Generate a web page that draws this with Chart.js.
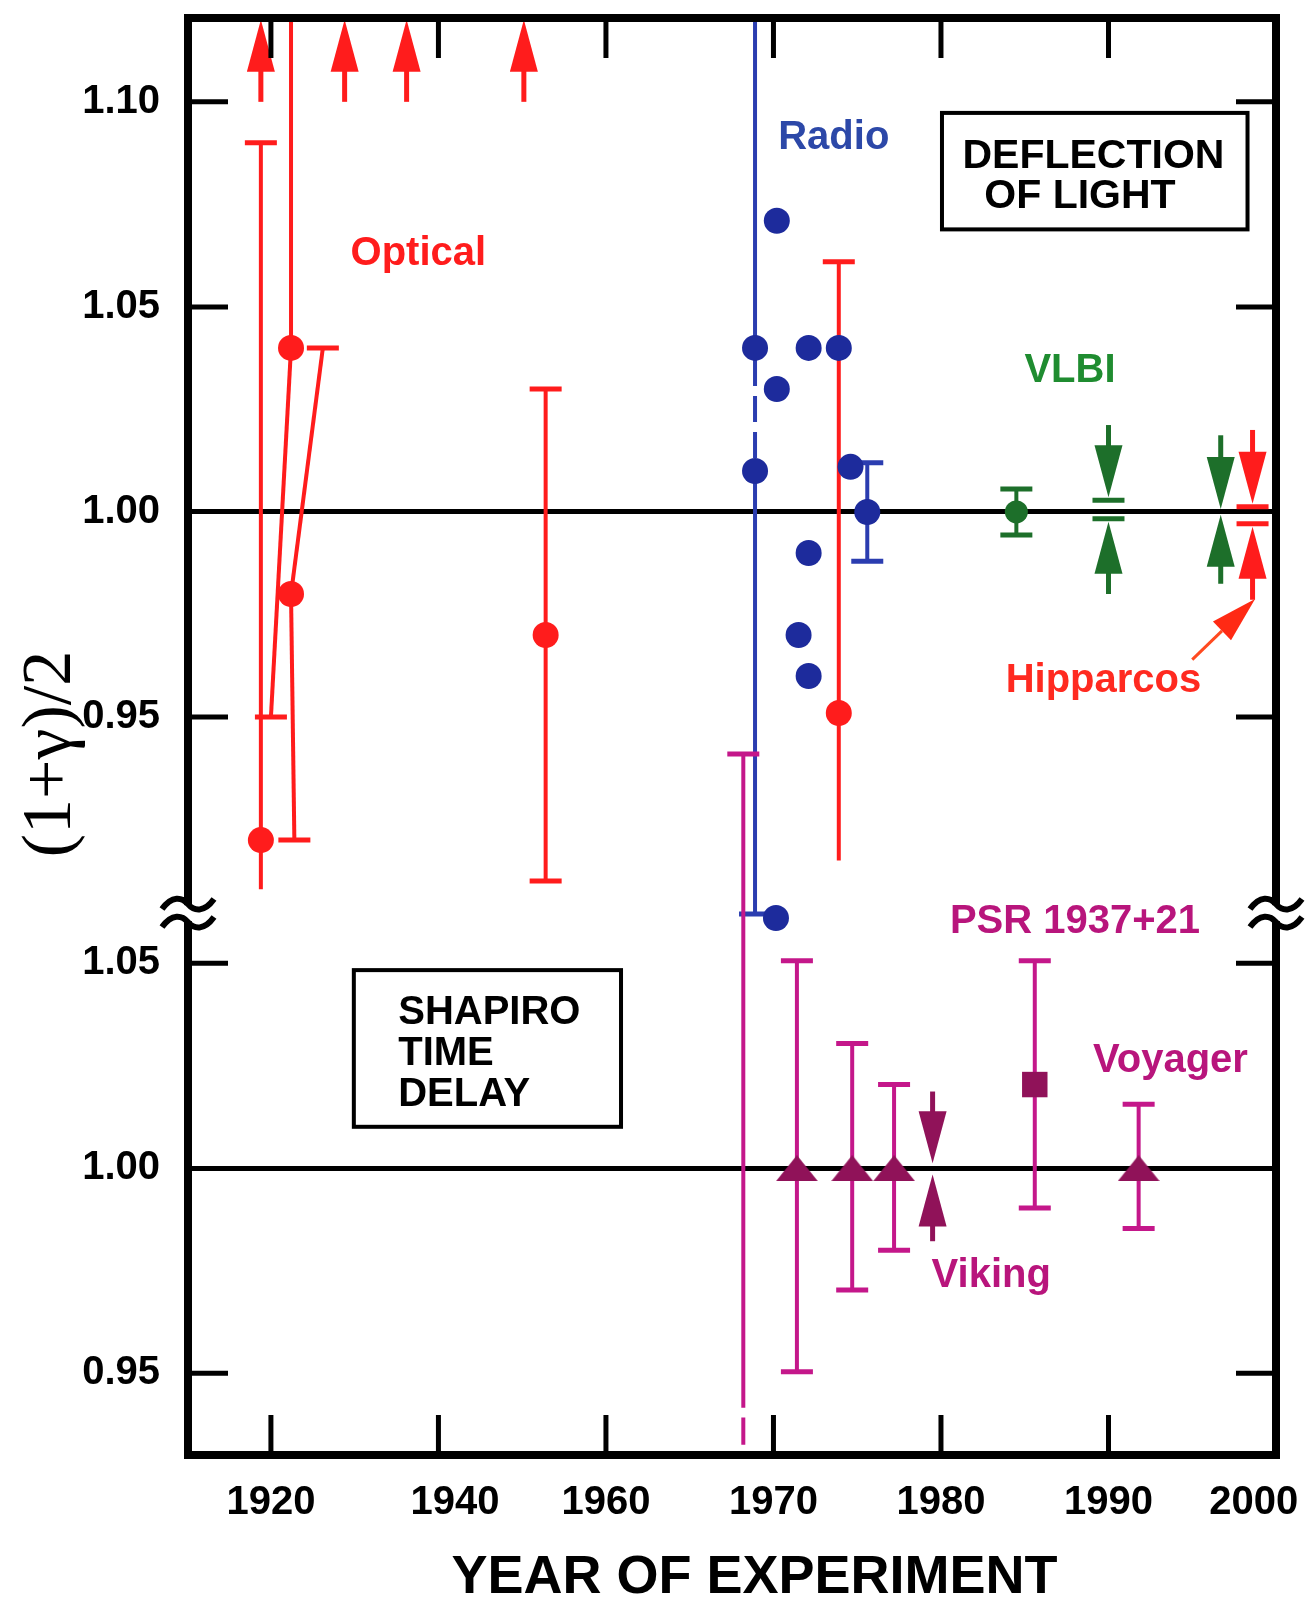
<!DOCTYPE html>
<html lang="en">
<head>
<meta charset="UTF-8">
<title>Deflection of light and Shapiro time delay</title>
<script src="https://cdn.jsdelivr.net/npm/chart.js"></script>
<style>
  body { margin: 0; background: #fff; }
  canvas { display: block; }
</style>
</head>
<body>
<canvas id="chart" width="1316" height="1616"></canvas>
<script>
// x axis: 20 years per division up to 1960, 10 years per division after
const xTickYears = [1920, 1940, 1960, 1970, 1980, 1990, 2000];
const xTickText  = ['1920', '   1940', '1960', '1970', '1980', '1990', '2000    '];
const yTicksTop    = [0.95, 1.00, 1.05, 1.10];   // deflection of light panel
const yTicksBottom = [0.95, 1.00, 1.05];         // time delay panel
const panelGap = 0.16;                           // time delay panel is drawn this much lower

// optical deflection (red)
const optYear = [1918.8, 1922.4, 1922.4, 1952.8, 1973.9];
const optVal  = [0.920, 1.040, 0.980, 0.970, 0.951];
// error bars go from (x0, lo) to (x1, hi), two of them are slanted
const optBarX0 = [1918.8, 1920.0, 1922.8, 1922.4, 1922.4, 1952.8, 1973.9];
const optBarLo = [0.908, 0.950, 0.920, 0.980, 1.040, 0.910, 0.915];
const optBarX1 = [1918.8, 1922.4, 1922.4, 1926.2, 1922.4, 1952.8, 1973.9];
const optBarHi = [1.090, 1.040, 0.980, 1.040, 1.130, 1.030, 1.061];
const optCapLo = [0, 1, 1, 0, 0, 1, 0];
const optCapHi = [1, 0, 0, 1, 0, 1, 1];
// results that run off the top of the plot
const optLimYear = [1918.8, 1928.8, 1936.2, 1950.2];
const optLimFrom = [1.100, 1.100, 1.100, 1.100];
const optLimTo   = [1.120, 1.120, 1.120, 1.120];

// radio (blue)
const radYear = [1968.9, 1968.9, 1970.2, 1970.2, 1971.5, 1972.1, 1972.1, 1972.1, 1973.9, 1974.6, 1975.6, 1970.15];
const radVal  = [1.040, 1.010, 1.071, 1.030, 0.970, 1.040, 0.990, 0.960, 1.040, 1.011, 1.000, 0.901];
const radBarX  = [1968.9, 1968.9, 1975.6];
const radBarLo = [1.040, 0.902, 0.988];
const radBarHi = [1.130, 1.010, 1.012];
const radCapLo = [0, 1, 1];
const radCapHi = [0, 0, 1];
const radDashYear = [1968.9, 1968.9];
const radDashVal  = [1.040, 1.010];

// VLBI (green)
const vlbiYear = [1984.5];
const vlbiVal  = [1.000];
const vlbiLo   = [0.9944];
const vlbiHi   = [1.0056];
const vlbiArrYear = [1990.0, 1990.0, 1996.7, 1996.7];
const vlbiArrFrom = [1.0212, 0.9800, 1.0187, 0.9825];
const vlbiArrTo   = [1.0036, 0.9976, 1.0007, 0.9993];
const vlbiArrCap  = [1, 1, 0, 0];

// Hipparcos (red)
const hipYear = [1998.6, 1998.6];
const hipFrom = [1.0200, 0.9786];
const hipTo   = [1.0020, 0.9964];
const hipCap  = [1, 1];

// Shapiro time delay (magenta), values of the lower panel
const shapYear = [1971.4, 1974.7, 1977.2, 1991.8];
const shapVal  = [1.000, 1.000, 1.000, 1.000];
const shapLo   = [0.9504, 0.9703, 0.9800, 0.9853];
const shapHi   = [1.0506, 1.0304, 1.0204, 1.0156];
const psrYear = [1985.6];
const psrVal  = [1.0204];
const psrLo   = [0.9903];
const psrHi   = [1.0506];
const early68Year = [1968.2];
const early68Lo   = [0.9416];
const early68Hi   = [1.1010];
const early68TailVal = [0.9392, 0.9326];
const vikYear = [1979.5, 1979.5];
const vikFrom = [1.0187, 0.9822];
const vikTo   = [1.0012, 0.9985];

// text notes: baseline position in axis units
const noteText = ['Optical', 'Radio', 'VLBI', 'Hipparcos', 'PSR 1937+21', 'Voyager', 'Viking'];
const noteYear = [1937.6, 1973.6, 1987.7, 1989.7, 1988.0, 1993.7, 1983.0];
const notePos  = [1.0601, 1.0886, 1.0316, 0.9562, 0.8973, 0.8635, 0.8110];

const RED = '#ff1c1c', BLUE = '#1d2b9c', BLUE_LINE = '#2b3db0', GREEN = '#1d6f2a';
const MAG = '#c4178a', MAG_DARK = '#901259';
const noteColor = [RED, '#2c48a8', '#1f8c30', '#ff2a20', '#b8157c', '#b8157c', '#b8157c'];
const SANS = "'Liberation Sans', Arial, sans-serif";

const ux = yr => yr <= 1960 ? (yr - 1920) / 20 : 2 + (yr - 1960) / 10;
const low = v => v - panelGap;
const same = v => v;

// error bars and arrows, drawn by the plugin below through the chart scales
const bars = [];
function addBars(x0, lo, x1, hi, capLo, capHi, color, shift) {
    x0.forEach((_, i) => bars.push({x0: x0[i], lo: shift(lo[i]), x1: x1[i], hi: shift(hi[i]),
        capLo: capLo[i], capHi: capHi[i], color: color}));
}
addBars(optBarX0, optBarLo, optBarX1, optBarHi, optCapLo, optCapHi, RED, same);
addBars(radBarX, radBarLo, radBarX, radBarHi, radCapLo, radCapHi, BLUE_LINE, same);
addBars(vlbiYear, vlbiLo, vlbiYear, vlbiHi, [1], [1], GREEN, same);
addBars(shapYear, shapLo, shapYear, shapHi, [1, 1, 1, 1], [1, 1, 1, 1], MAG, low);
addBars(psrYear, psrLo, psrYear, psrHi, [1], [1], MAG, low);
addBars(early68Year, early68Lo, early68Year, early68Hi, [0], [1], MAG, low);

const arrows = [];
function addArrows(xs, from, to, cap, color, shift) {
    xs.forEach((_, i) => arrows.push({x: xs[i], from: shift(from[i]), to: shift(to[i]), cap: cap[i], color: color}));
}
addArrows(optLimYear, optLimFrom, optLimTo, [0, 0, 0, 0], RED, same);
addArrows(vlbiArrYear, vlbiArrFrom, vlbiArrTo, vlbiArrCap, GREEN, same);
addArrows(hipYear, hipFrom, hipTo, hipCap, RED, same);
addArrows(vikYear, vikFrom, vikTo, [0, 0], MAG_DARK, same === null ? same : low);

// squat triangle marker
function triangle(w, h, color) {
    const c = document.createElement('canvas');
    c.width = w; c.height = h;
    const g = c.getContext('2d');
    g.fillStyle = color;
    g.beginPath(); g.moveTo(w / 2, 0); g.lineTo(w, h); g.lineTo(0, h); g.closePath(); g.fill();
    return c;
}

function line(ctx, x0, y0, x1, y1) {
    ctx.beginPath(); ctx.moveTo(x0, y0); ctx.lineTo(x1, y1); ctx.stroke();
}

const marks = {
    id: 'marks',
    beforeDatasetsDraw(chart) {
        const {ctx, chartArea: a, scales: {x, y}} = chart;
        const X = yr => x.getPixelForValue(ux(yr));
        ctx.save();
        ctx.beginPath(); ctx.rect(a.left, a.top, a.right - a.left, a.bottom - a.top); ctx.clip();
        bars.forEach(b => {
            ctx.strokeStyle = b.color;
            ctx.lineWidth = 4;
            line(ctx, X(b.x0), y.getPixelForValue(b.lo), X(b.x1), y.getPixelForValue(b.hi));
            ctx.lineWidth = 5;
            if (b.capLo) line(ctx, X(b.x0) - 16, y.getPixelForValue(b.lo), X(b.x0) + 16, y.getPixelForValue(b.lo));
            if (b.capHi) line(ctx, X(b.x1) - 16, y.getPixelForValue(b.hi), X(b.x1) + 16, y.getPixelForValue(b.hi));
        });
        ctx.restore();
    },
    afterDatasetsDraw(chart) {
        const {ctx, scales: {x, y}} = chart;
        ctx.save();
        arrows.forEach(r => {
            const px = x.getPixelForValue(ux(r.x));
            const y0 = y.getPixelForValue(r.from), y1 = y.getPixelForValue(r.to);
            const d = Math.sign(y1 - y0), yb = y1 - d * 52;
            ctx.strokeStyle = r.color; ctx.fillStyle = r.color; ctx.lineWidth = 5;
            line(ctx, px, y0, px, yb + d * 2);
            ctx.beginPath(); ctx.moveTo(px - 14, yb); ctx.lineTo(px + 14, yb); ctx.lineTo(px, y1); ctx.closePath(); ctx.fill();
            if (r.cap) line(ctx, px - 16, y1 + d * 3, px + 16, y1 + d * 3);
        });

        // pointer to the Hipparcos result
        const tx = x.getPixelForValue(ux(1995.0)), ty = y.getPixelForValue(0.9640);
        const hx = x.getPixelForValue(ux(1998.75)), hy = y.getPixelForValue(0.9788);
        const ang = Math.atan2(hy - ty, hx - tx);
        const bx = hx - 46 * Math.cos(ang), by = hy - 46 * Math.sin(ang);
        ctx.strokeStyle = '#ff4a20'; ctx.fillStyle = '#ff2a14'; ctx.lineWidth = 3;
        line(ctx, tx, ty, bx, by);
        ctx.beginPath();
        ctx.moveTo(hx, hy);
        ctx.lineTo(bx + 13 * Math.sin(ang), by - 13 * Math.cos(ang));
        ctx.lineTo(bx - 13 * Math.sin(ang), by + 13 * Math.cos(ang));
        ctx.closePath(); ctx.fill();
        ctx.restore();
    },
    afterDraw(chart) {
        const {ctx, chartArea: a, scales: {x, y}} = chart;
        const X = yr => x.getPixelForValue(ux(yr));
        ctx.save();

        // notes
        ctx.font = 'bold 40px ' + SANS;
        ctx.textAlign = 'center';
        ctx.textBaseline = 'alphabetic';
        noteText.forEach((t, i) => {
            ctx.fillStyle = noteColor[i];
            ctx.fillText(t, X(noteYear[i]), y.getPixelForValue(notePos[i]));
        });

        // boxed titles
        ctx.fillStyle = '#000'; ctx.strokeStyle = '#000'; ctx.lineWidth = 4;
        let l = X(1980.06), r = X(1998.3), t = y.getPixelForValue(1.0973), b = y.getPixelForValue(1.0689);
        ctx.strokeRect(l, t, r - l, b - t);
        ctx.font = 'bold 41px ' + SANS;
        ctx.fillText('DEFLECTION', X(1989.1), y.getPixelForValue(1.0839));
        ctx.fillText('OF LIGHT', X(1988.3), y.getPixelForValue(1.0742));
        l = X(1929.9); r = X(1960.9); t = y.getPixelForValue(0.8883); b = y.getPixelForValue(0.8501);
        ctx.strokeRect(l, t, r - l, b - t);
        ctx.textAlign = 'left';
        ctx.font = 'bold 40px ' + SANS;
        ['SHAPIRO', 'TIME', 'DELAY'].forEach((s, i) =>
            ctx.fillText(s, X(1935.2), y.getPixelForValue([0.8752, 0.8652, 0.8552][i])));

        // frame with inward ticks
        ctx.lineWidth = 8;
        ctx.strokeRect(a.left, a.top, a.right - a.left, a.bottom - a.top);
        ctx.lineWidth = 5;
        x.ticks.forEach(tk => {
            const px = x.getPixelForValue(tk.value);
            if (px > a.right - 10) return;
            line(ctx, px, a.top, px, a.top + 40);
            line(ctx, px, a.bottom, px, a.bottom - 40);
        });
        y.ticks.forEach(tk => {
            if (Math.abs(tk.value - 1) < 1e-6 || Math.abs(tk.value - low(1)) < 1e-6) return;
            const py = y.getPixelForValue(tk.value);
            line(ctx, a.left, py, a.left + 40, py);
            line(ctx, a.right, py, a.right - 40, py);
        });

        // axis break between the panels
        const yb = y.getPixelForValue(0.9022);
        [a.left, a.right].forEach(px => {
            ctx.fillStyle = '#fff';
            ctx.fillRect(px - 6, yb - 8, 12, 16);
            ctx.strokeStyle = '#000'; ctx.lineWidth = 6;
            [-9, 9].forEach(off => {
                const c = yb + off;
                ctx.beginPath();
                ctx.moveTo(px - 26, c + 5);
                ctx.bezierCurveTo(px - 16, c - 9, px - 6, c - 7, px, c);
                ctx.bezierCurveTo(px + 6, c + 7, px + 16, c + 9, px + 26, c - 5);
                ctx.stroke();
            });
        });
        ctx.restore();
    }
};

const pts = (xs, vs, shift) => xs.map((yr, i) => ({x: ux(yr), y: shift(vs[i])}));
const tickFont = {family: SANS, size: 40, weight: 'bold', lineHeight: 1};

new Chart(document.getElementById('chart'), {
    type: 'scatter',
    data: {
        datasets: [
            {data: pts(optYear, optVal, same), pointRadius: 13, backgroundColor: RED, borderWidth: 0},
            {data: pts(radYear, radVal, same), pointRadius: 13, backgroundColor: BLUE, borderWidth: 0},
            {data: pts(vlbiYear, vlbiVal, same), pointRadius: 11.5, backgroundColor: GREEN, borderWidth: 0},
            {data: pts(shapYear, shapVal, low), pointStyle: triangle(42, 26, MAG_DARK), pointRadius: 12},
            {data: pts(psrYear, psrVal, low), pointStyle: 'rect', pointRadius: 18, backgroundColor: MAG_DARK, borderWidth: 0},
            {data: pts(radDashYear, radDashVal, same), showLine: true, pointRadius: 0,
             borderColor: BLUE_LINE, borderWidth: 4, borderDash: [26, 10], borderDashOffset: -12},
            {data: pts([1968.2, 1968.2], early68TailVal, low), showLine: true, pointRadius: 0,
             borderColor: MAG, borderWidth: 4}
        ]
    },
    options: {
        responsive: false,
        animation: false,
        events: [],
        layout: {padding: {top: 15, right: 40, left: 0, bottom: 0}},
        plugins: {legend: {display: false}, tooltip: {enabled: false}},
        scales: {
            x: {
                type: 'linear', min: -0.495, max: 6.0,
                afterBuildTicks: s => { s.ticks = xTickYears.map(v => ({value: ux(v)})); },
                afterFit: s => { s.height = 161; s.paddingLeft = 0; s.paddingRight = 0; },
                grid: {display: false},
                border: {display: false},
                ticks: {color: '#000', font: tickFont, padding: 20, maxRotation: 0, autoSkip: false,
                        callback: (v, i) => xTickText[i]},
                title: {display: true, text: '   YEAR OF EXPERIMENT', color: '#000',
                        font: {family: SANS, size: 54, weight: 'bold', lineHeight: 1},
                        padding: {top: 0, bottom: 11}}
            },
            y: {
                min: 0.77008, max: 1.12044,
                afterBuildTicks: s => {
                    s.ticks = yTicksBottom.map(v => ({value: low(v)})).concat(yTicksTop.map(v => ({value: v})));
                },
                afterFit: s => { s.width = 188; s.paddingTop = 0; s.paddingBottom = 0; },
                grid: {
                    drawTicks: false, lineWidth: 5,
                    color: c => (Math.abs(c.tick.value - 1) < 1e-6 || Math.abs(c.tick.value - low(1)) < 1e-6) ? '#000' : 'rgba(0,0,0,0)'
                },
                border: {display: false},
                ticks: {color: '#000', font: tickFont, padding: 28,
                        callback: (v, i) => (i < yTicksBottom.length ? yTicksBottom[i] : yTicksTop[i - yTicksBottom.length]).toFixed(2)},
                title: {display: true, text: '(1+γ)/2  ', color: '#000',
                        font: {family: "'Liberation Serif', 'Times New Roman', serif", size: 70, weight: 'normal', lineHeight: 1},
                        padding: {top: 17, bottom: 0}}
            }
        }
    },
    plugins: [marks]
});
</script>
</body>
</html>
